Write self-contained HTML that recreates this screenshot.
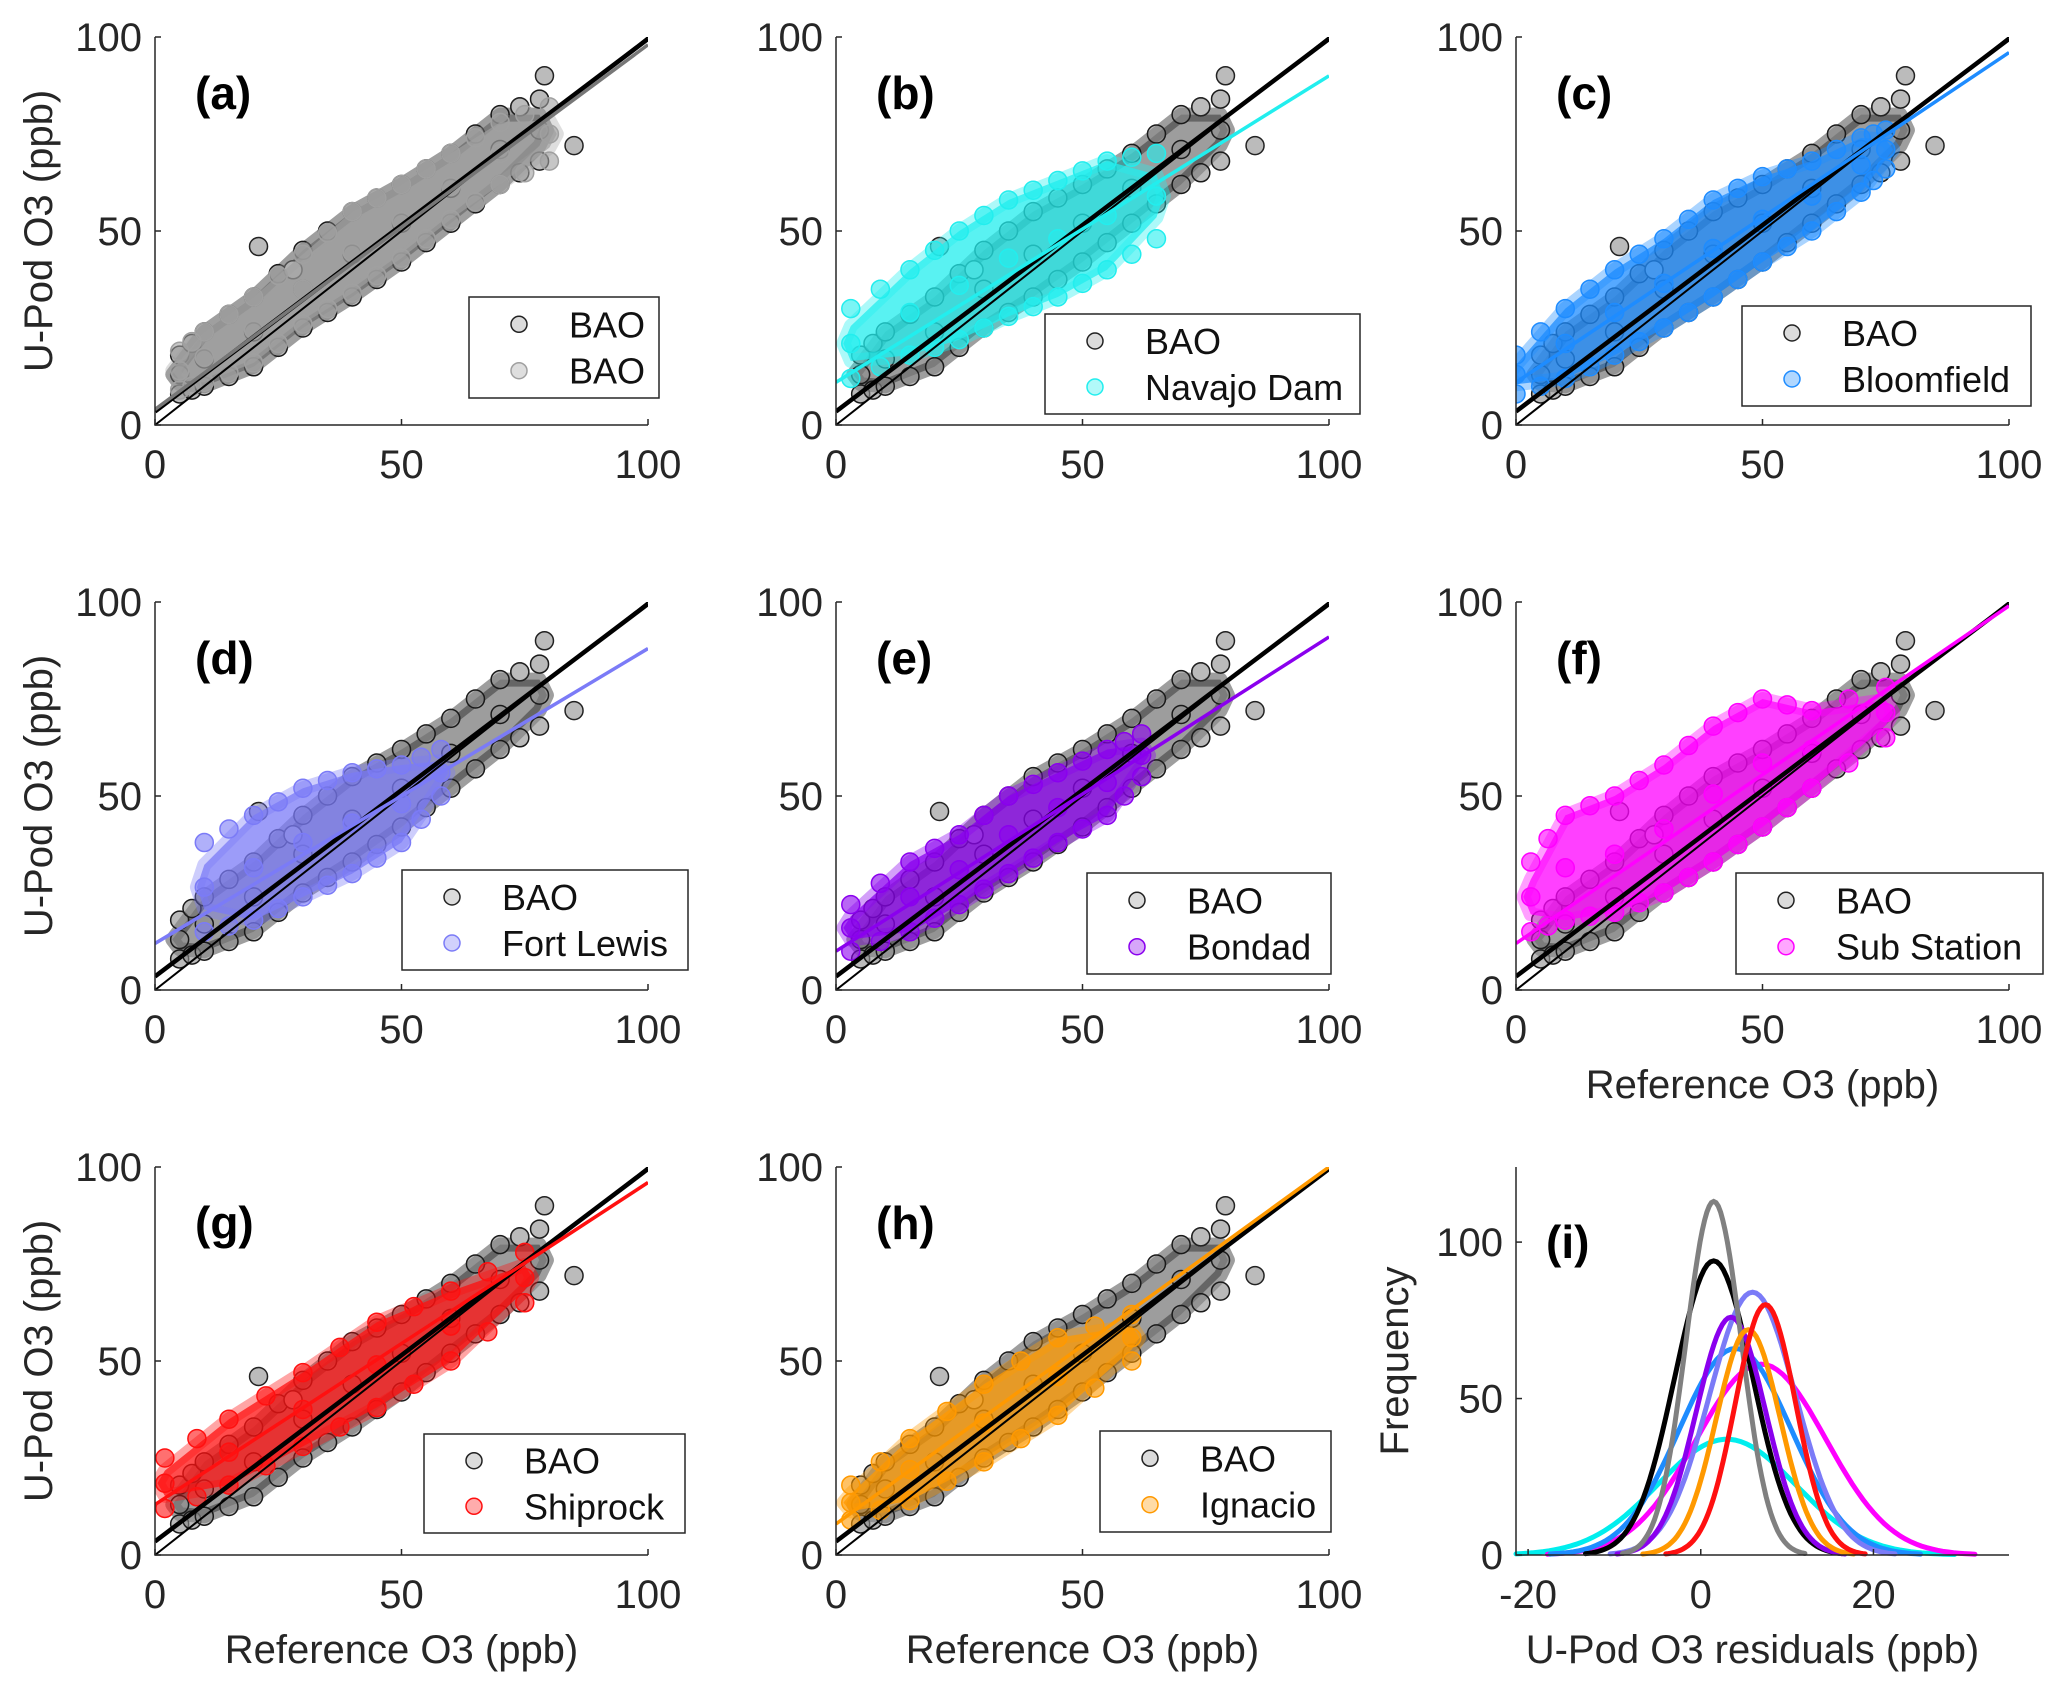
<!DOCTYPE html>
<html><head><meta charset="utf-8">
<style>
html,body{margin:0;padding:0;background:#fff;}
svg{display:block;font-family:"Liberation Sans",Arial,sans-serif;}
</style></head>
<body>
<svg id="fig" width="2067" height="1696" viewBox="0 0 2067 1696" xmlns="http://www.w3.org/2000/svg">
<rect width="2067" height="1696" fill="#fff"/>
</svg>
<script>
// ---------- data ----------
const panelLetters = ['a','b','c','d','e','f','g','h'];
const siteNames = ['BAO','Navajo Dam','Bloomfield','Fort Lewis','Bondad','Sub Station','Shiprock','Ignacio'];
const siteColors = ['#a0a0a0','#22eeee','#1e8cff','#7b7bf7','#8a00ee','#ff00ff','#ff1010','#ff9900'];
const fitIntercepts = [4, 11, 11, 12, 10, 12, 13, 8];
const fitSlopes = [0.94, 0.79, 0.85, 0.76, 0.81, 0.87, 0.83, 0.92];
const baoIntercept = 3.5;
const baoSlope = 0.96;
const baoX  = [5, 10, 20, 30, 40, 50, 60, 70, 78];
const baoLo = [8, 10, 15, 25, 33, 42, 52, 62, 68];
const baoHi = [18, 24, 33, 45, 55, 62, 70, 80, 84];
const baoOutX = [21, 79, 85, 74, 28];
const baoOutY = [46, 90, 72, 82, 40];
const envX = [
  [5, 10, 20, 30, 40, 50, 60, 70, 80],
  [3, 15, 25, 35, 45, 55, 65],
  [0, 10, 20, 30, 40, 50, 60, 70, 75],
  [10, 20, 30, 40, 50, 58],
  [3, 15, 25, 35, 45, 55, 62],
  [3, 10, 20, 30, 40, 50, 60, 75],
  [2, 15, 30, 45, 60, 75],
  [3, 15, 30, 45, 60]
];
const envLo = [
  [9, 11, 16, 26, 34, 43, 53, 62, 68],
  [12, 18, 22, 28, 33, 40, 48],
  [8, 12, 18, 25, 33, 42, 50, 60, 66],
  [15, 18, 24, 30, 38, 50],
  [10, 15, 22, 30, 38, 45, 55],
  [15, 18, 20, 25, 33, 42, 52, 65],
  [12, 18, 28, 38, 50, 65],
  [9, 14, 24, 36, 50]
];
const envHi = [
  [19, 24, 33, 44, 55, 62, 70, 78, 82],
  [30, 40, 50, 58, 63, 68, 70],
  [18, 30, 40, 48, 58, 64, 68, 74, 76],
  [38, 45, 52, 56, 58, 62],
  [22, 33, 40, 50, 56, 62, 66],
  [33, 45, 50, 58, 68, 75, 72, 78],
  [25, 35, 47, 60, 68, 78],
  [18, 30, 44, 56, 62]
];
const resColors = ['#00eeee','#ff00ff','#1e8cff','#000000','#7b7bf7','#8a00ee','#808080','#ff9900','#ff1010'];
const resPeaks = [37, 61, 66, 94, 84, 76, 113, 72, 80];
const resMeans = [3, 7, 4, 1.5, 6, 3.5, 1.5, 5.5, 7.5];
const resSigmas = [8, 7.5, 6.5, 4.5, 5, 4, 3.2, 3.7, 3.5];
const resXTicks = [-20, 0, 20];
const resYTicks = [0, 50, 100];
const scTicks = [0, 50, 100];

// ---------- layout ----------
const NS = 'http://www.w3.org/2000/svg';
const svg = document.getElementById('fig');
const colX = [155, 836, 1516];
const rowTop = [37, 602, 1167];
const rowBot = [425, 990, 1555];
const PW = 493;
const AX = '#262626';
function mk(tag, attrs, parent) {
  const e = document.createElementNS(NS, tag);
  for (const k in attrs) e.setAttribute(k, attrs[k]);
  (parent || svg).appendChild(e);
  return e;
}
function txt(s, attrs, parent) { const t = mk('text', attrs, parent); t.textContent = s; return t; }

const legendBoxes = [
  [469,297,190,101],[1045,314,315,100],[1742,306,289,100],
  [402,870,286,100],[1087,873,244,101],[1736,873,307,101],
  [424,1434,261,99],[1100,1431,231,101]
];

for (let p = 0; p < 8; p++) {
  const c = p % 3, r = Math.floor(p / 3);
  const x0 = colX[c], yb = rowBot[r], yt = rowTop[r];
  const sx = v => x0 + v / 100 * PW;
  const sy = v => yb - v / 100 * (yb - yt);
  const g = mk('g', {});
  
  
  const clipId = 'clip' + p;
  const cp = mk('clipPath', {id: clipId}, g);
  mk('rect', {x: x0, y: yt, width: PW, height: yb - yt}, cp);
  const plot = mk('g', {'clip-path': 'url(#' + clipId + ')'}, g);

  function band(xs, lo, hi, fill, stroke, op, name) {
    const bg = mk('g', {}, plot);
    
    
    const n = xs.length;
    const firstMid = (lo[0] + hi[0]) / 2, lastMid = (lo[n - 1] + hi[n - 1]) / 2;
    let pts = [sx(xs[0] - 1.5) + ',' + sy(firstMid)];
    pts = pts.concat(xs.map((x, i) => sx(x) + ',' + sy(hi[i] - (i === 0 || i === n - 1 ? (hi[i] - lo[i]) * 0.25 : 0))));
    pts.push(sx(xs[n - 1] + 1.5) + ',' + sy(lastMid));
    pts = pts.concat(xs.map((x, i) => sx(x) + ',' + sy(lo[i] + (i === 0 || i === n - 1 ? (hi[i] - lo[i]) * 0.25 : 0))).reverse());
    mk('polygon', {points: pts.join(' '), fill: fill, 'fill-opacity': op, stroke: stroke, 'stroke-width': 14, 'stroke-opacity': op * 0.5, 'stroke-linejoin': 'round'}, bg);
    for (let i = 0; i < n; i++) {
      const ys = [lo[i], hi[i], (lo[i] + hi[i]) / 2];
      ys.forEach(y => mk('circle', {cx: sx(xs[i]), cy: sy(y), r: 9, fill: fill, 'fill-opacity': 0.6, stroke: stroke, 'stroke-width': 1.5}, bg));
      if (i < n - 1) {
        const mx = (xs[i] + xs[i + 1]) / 2;
        mk('circle', {cx: sx(mx), cy: sy((hi[i] + hi[i + 1]) / 2), r: 9, fill: fill, 'fill-opacity': 0.6, stroke: stroke, 'stroke-width': 1.5}, bg);
        mk('circle', {cx: sx(mx), cy: sy((lo[i] + lo[i + 1]) / 2), r: 9, fill: fill, 'fill-opacity': 0.6, stroke: stroke, 'stroke-width': 1.5}, bg);
      }
    }
  }
  band(baoX, baoLo, baoHi, '#8c8c8c', '#1a1a1a', 0.85, 'bao-scatter');
  for (let i = 0; i < baoOutX.length; i++) {
    const o = mk('circle', {cx: sx(baoOutX[i]), cy: sy(baoOutY[i]), r: 9, fill: '#bbb', stroke: '#222', 'stroke-width': 1.5}, plot);
    
    
  }
  const col = siteColors[p];
  band(envX[p], envLo[p], envHi[p], col, col, p === 0 ? 0.7 : 0.75, 'site-scatter');
  const l1 = mk('line', {x1: sx(0), y1: sy(0), x2: sx(100), y2: sy(100), stroke: '#000', 'stroke-width': 2}, plot);
  
  
  const l2 = mk('line', {x1: sx(0), y1: sy(baoIntercept), x2: sx(100), y2: sy(baoIntercept + baoSlope * 100), stroke: '#000', 'stroke-width': 4.5}, plot);
  
  
  const l3 = mk('line', {x1: sx(0), y1: sy(fitIntercepts[p]), x2: sx(100), y2: sy(fitIntercepts[p] + fitSlopes[p] * 100), stroke: p === 0 ? '#777' : col, 'stroke-width': 3.5}, plot);
  
  

  const ax = mk('path', {d: `M${x0},${yt} L${x0},${yb} L${x0 + PW},${yb}`, stroke: AX, fill: 'none', 'stroke-width': 1.5}, g);
  
  
  scTicks.forEach(t => {
    mk('line', {x1: sx(t), y1: yb, x2: sx(t), y2: yb - 6, stroke: AX, 'stroke-width': 1.5}, g);
    mk('line', {x1: x0, y1: sy(t), x2: x0 + 6, y2: sy(t), stroke: AX, 'stroke-width': 1.5}, g);
    const xl = txt(String(t), {x: sx(t), y: yb + 53, 'font-size': 40, 'text-anchor': 'middle', fill: AX}, g);
    
    
    const yl = txt(String(t), {x: x0 - 13, y: sy(t) + 14, 'font-size': 40, 'text-anchor': 'end', fill: AX}, g);
    
    
  });
  const pl = txt('(' + panelLetters[p] + ')', {x: x0 + 40, y: yt + 72, 'font-size': 46, 'font-weight': 'bold', fill: '#000'}, g);
  
  
  if (c === 0) {
    const yt2 = txt('U-Pod O3 (ppb)', {x: 0, y: 0, 'font-size': 40, 'text-anchor': 'middle', fill: AX, transform: `translate(52,${(yt + yb) / 2}) rotate(-90)`}, g);
    
    
  }
  if (p >= 5) {
    const xt = txt('Reference O3 (ppb)', {x: x0 + PW / 2, y: yb + 108, 'font-size': 40, 'text-anchor': 'middle', fill: AX}, g);
    
    
  }
  const lb = legendBoxes[p];
  const lg = mk('g', {}, g);
  
  
  mk('rect', {x: lb[0], y: lb[1], width: lb[2], height: lb[3], fill: '#fff', stroke: AX, 'stroke-width': 1.5}, lg);
  const names = ['BAO', siteNames[p]];
  const fills = ['#999', col];
  const strokes = ['#222', col];
  for (let k = 0; k < 2; k++) {
    const cy = lb[1] + lb[3] * (k === 0 ? 0.27 : 0.73);
    const e = mk('g', {}, lg);
    
    
    mk('circle', {cx: lb[0] + 50, cy: cy, r: 8, fill: fills[k], 'fill-opacity': 0.35, stroke: strokes[k], 'stroke-width': 1.5}, e);
    txt(names[k], {x: lb[0] + 100, y: cy + 13, 'font-size': 36, fill: '#111'}, e);
  }
}

// ---------- panel (i) ----------
(function () {
  const x0 = 1516, x1 = 2009, yb = 1555, yt = 1167;
  const xmin = -21.4, xmax = 35.7, ymin = 0, ymax = 124;
  const sx = v => x0 + (v - xmin) / (xmax - xmin) * (x1 - x0);
  const sy = v => yb - (v - ymin) / (ymax - ymin) * (yb - yt);
  const g = mk('g', {});
  
  
  for (let s = 0; s < resPeaks.length; s++) {
    const m = resMeans[s], sd = resSigmas[s], pk = resPeaks[s];
    let d = '';
    const a = Math.max(xmin, m - 3.3 * sd), b = m + 3.3 * sd;
    for (let i = 0; i <= 80; i++) {
      const x = a + (b - a) * i / 80;
      const y = pk * Math.exp(-0.5 * ((x - m) / sd) ** 2);
      d += (i ? 'L' : 'M') + sx(x).toFixed(1) + ',' + sy(y).toFixed(1);
    }
    const pth = mk('path', {d: d, stroke: resColors[s], fill: 'none', 'stroke-width': 5, 'stroke-linecap': 'round'}, g);
    
    
  }
  const ax = mk('path', {d: `M${x0},${yt} L${x0},${yb} L${x1},${yb}`, stroke: AX, fill: 'none', 'stroke-width': 1.5}, g);
  
  
  resXTicks.forEach(t => {
    mk('line', {x1: sx(t), y1: yb, x2: sx(t), y2: yb - 6, stroke: AX, 'stroke-width': 1.5}, g);
    const l = txt(String(t), {x: sx(t), y: yb + 53, 'font-size': 40, 'text-anchor': 'middle', fill: AX}, g);
    
    
  });
  resYTicks.forEach(t => {
    mk('line', {x1: x0, y1: sy(t), x2: x0 + 6, y2: sy(t), stroke: AX, 'stroke-width': 1.5}, g);
    const l = txt(String(t), {x: x0 - 13, y: sy(t) + 14, 'font-size': 40, 'text-anchor': 'end', fill: AX}, g);
    
    
  });
  const pl = txt('(i)', {x: x0 + 30, y: 1258, 'font-size': 46, 'font-weight': 'bold', fill: '#000'}, g);
  
  
  const yt2 = txt('Frequency', {x: 0, y: 0, 'font-size': 40, 'text-anchor': 'middle', fill: AX, transform: `translate(1408,${(yt + yb) / 2}) rotate(-90)`}, g);
  
  
  const xt = txt('U-Pod O3  residuals  (ppb)', {x: (x0 + x1) / 2 - 10, y: 1663, 'font-size': 40, 'text-anchor': 'middle', fill: AX}, g);
  
  
})();
</script>
</body></html>
